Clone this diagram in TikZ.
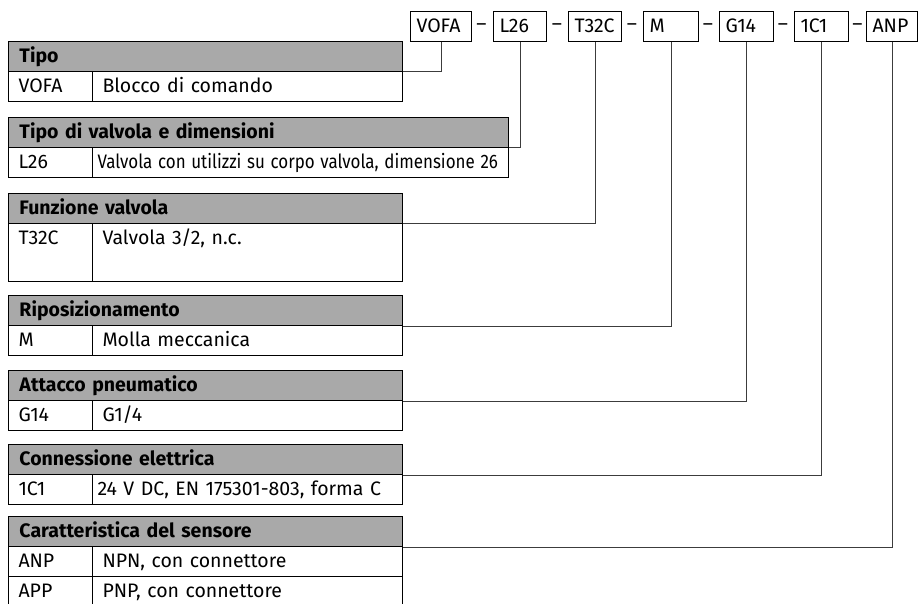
\documentclass[tikz,border=0pt]{standalone}
\usepackage{fontspec}
\setmainfont{Fira Sans}
\definecolor{hdrgray}{RGB}{169,169,169}
\definecolor{lnk}{RGB}{60,60,60}
\begin{document}
\begin{tikzpicture}[x=1pt,y=-1pt,
  every node/.style={font=\fontsize{19.5}{23}\selectfont},
  codebox/.style={draw, line width=1pt, anchor=north west, minimum height=30,
    inner xsep=6, inner ysep=6, text height=15, text depth=3, text width=#1, align=left},
  dashlbl/.style={inner sep=0pt},
  hdr/.style={draw, line width=1pt, fill=hdrgray, anchor=north west, minimum height=30,
    inner xsep=11, inner ysep=6, text height=15, text depth=3, text width=#1, align=left,
    font=\fontsize{19.5}{23}\selectfont\bfseries},
  cell/.style={draw, line width=1pt, anchor=north west, minimum height=30,
    inner xsep=10, inner ysep=6, text height=15, text depth=3, text width=#1, align=left},
  link/.style={draw=lnk, line width=1pt}
]
\useasboundingbox (0,0) rectangle (918,604);

% ---- order code boxes ----
\node[codebox=49] (cVOFA) at (410,11) {VOFA};
\node[codebox=41] (cL26)  at (493,11) {L26};
\node[codebox=41] (cT32C) at (568,11) {T32C};
\node[codebox=43] (cM)    at (643,11) {M};
\node[codebox=42] (cG14)  at (719,11) {G14};
\node[codebox=42] (c1C1)  at (794,11) {1C1};
\node[codebox=39] (cANP)  at (866,11) {ANP};

\node[dashlbl] (d1) at (481.5,27) {–};
\node[dashlbl] (d2) at (557,27) {–};
\node[dashlbl] (d3) at (632,27) {–};
\node[dashlbl] (d4) at (708,27) {–};
\node[dashlbl] (d5) at (783,27) {–};
\node[dashlbl] (d6) at (857.5,27) {–};

% ---- tables ----
% 1 Tipo
\node[hdr=372] (h1) at (8,41) {Tipo};
\node[cell=64] (k1) at (8,71) {VOFA};
\node[cell=290] (v1) at (92,71) {Blocco di comando};
% 2 Tipo di valvola
\node[hdr=478] (h2) at (8,117) {Tipo di valvola e dimensioni};
\node[cell=64] (k2) at (8,147) {L26};
\node[cell=406, inner xsep=5] (v2) at (92,147) {\scalebox{0.87}[1]{Valvola con utilizzi su corpo valvola, dimensione 26}};
% 3 Funzione valvola
\node[hdr=372] (h3) at (8,193) {Funzione valvola};
\node[cell=64, text depth=31] (k3) at (8,223) {T32C};
\node[cell=290, text depth=31] (v3) at (92,223) {Valvola 3/2, n.c.};
% 4 Riposizionamento
\node[hdr=372] (h4) at (8,295) {Riposizionamento};
\node[cell=64] (k4) at (8,325) {M};
\node[cell=290] (v4) at (92,325) {Molla meccanica};
% 5 Attacco pneumatico
\node[hdr=372] (h5) at (8,370) {Attacco pneumatico};
\node[cell=64] (k5) at (8,400) {G14};
\node[cell=290] (v5) at (92,400) {G1/4};
% 6 Connessione elettrica
\node[hdr=372] (h6) at (8,444) {Connessione elettrica};
\node[cell=64] (k6) at (8,474) {1C1};
\node[cell=300, inner xsep=5] (v6) at (92,474) {24 V DC, EN 175301-803, forma C};
% 7 Caratteristica del sensore
\node[hdr=372] (h7) at (8,516) {Caratteristica del sensore};
\node[cell=64] (k7a) at (8,546) {ANP};
\node[cell=290] (v7a) at (92,546) {NPN, con connettore};
\node[cell=64] (k7b) at (8,576) {APP};
\node[cell=290] (v7b) at (92,576) {PNP, con connettore};

% ---- connectors ----
\draw[link] (cVOFA.south) |- (h1.south east);
\draw[link] (cL26.south)  |- (h2.south east);
\draw[link] (cT32C.south) |- (h3.south east);
\draw[link] (cM.south)    |- (h4.south east);
\draw[link] (cG14.south)  |- (h5.south east);
\draw[link] (c1C1.south)  |- (h6.south east);
\draw[link] (cANP.south)  |- (h7.south east);
\end{tikzpicture}
\end{document}
